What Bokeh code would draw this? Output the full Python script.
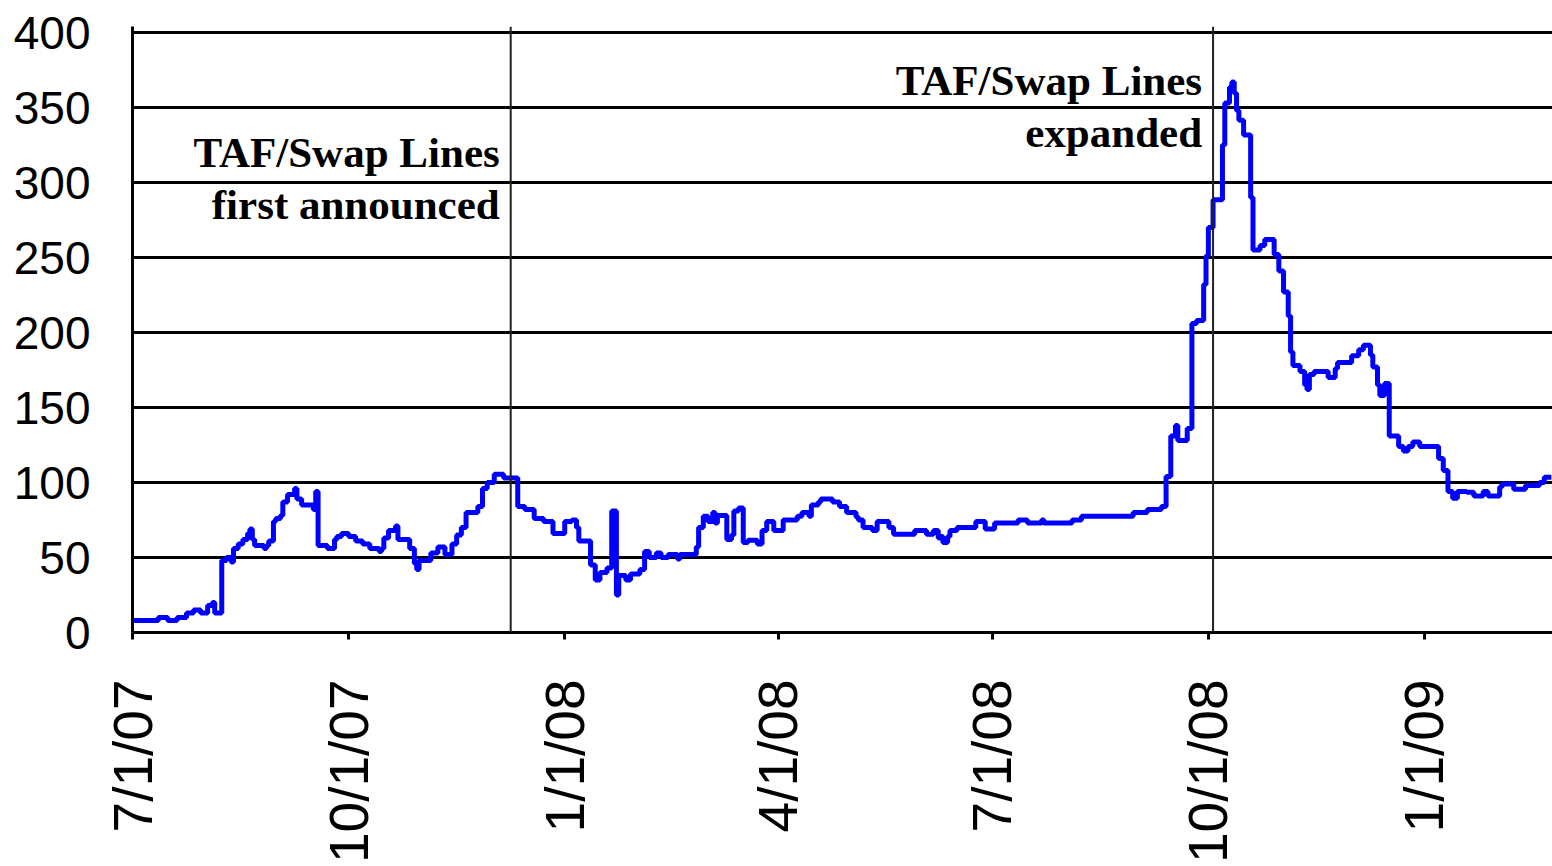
import math
import pandas as pd
from bokeh.plotting import figure
from bokeh.models import FixedTicker, Span, ColumnDataSource, Range1d
from bokeh.core.properties import value
from bokeh.embed import file_html
from bokeh.resources import INLINE

# ---------------- data ----------------
dates = [
    "2007-07-01", "2007-07-12", "2007-07-16", "2007-07-20", "2007-07-24", "2007-07-27", "2007-07-30",
    "2007-08-02", "2007-08-04", "2007-08-05", "2007-08-08", "2007-08-10", "2007-08-12", "2007-08-13",
    "2007-08-15", "2007-08-17", "2007-08-19", "2007-08-20", "2007-08-21", "2007-08-22", "2007-08-26",
    "2007-08-27", "2007-08-28", "2007-08-30", "2007-08-31", "2007-09-02", "2007-09-03", "2007-09-05",
    "2007-09-08", "2007-09-09", "2007-09-11", "2007-09-16", "2007-09-17", "2007-09-18", "2007-09-22",
    "2007-09-25", "2007-09-26", "2007-09-28", "2007-10-01", "2007-10-04", "2007-10-07", "2007-10-10",
    "2007-10-14", "2007-10-15", "2007-10-16", "2007-10-18", "2007-10-21", "2007-10-22", "2007-10-27",
    "2007-10-29", "2007-10-30", "2007-10-31", "2007-11-05", "2007-11-08", "2007-11-11", "2007-11-14",
    "2007-11-16", "2007-11-18", "2007-11-20", "2007-11-25", "2007-11-27", "2007-11-29", "2007-12-02",
    "2007-12-06", "2007-12-12", "2007-12-15", "2007-12-19", "2007-12-23", "2007-12-27", "2008-01-01",
    "2008-01-04", "2008-01-06", "2008-01-07", "2008-01-12", "2008-01-14", "2008-01-16", "2008-01-19",
    "2008-01-21", "2008-01-23", "2008-01-24", "2008-01-27", "2008-01-29", "2008-02-02", "2008-02-04",
    "2008-02-06", "2008-02-09", "2008-02-11", "2008-02-14", "2008-02-18", "2008-02-19", "2008-02-26",
    "2008-02-27", "2008-02-29", "2008-03-02", "2008-03-04", "2008-03-05", "2008-03-06", "2008-03-10",
    "2008-03-12", "2008-03-13", "2008-03-15", "2008-03-17", "2008-03-19", "2008-03-23", "2008-03-25",
    "2008-03-27", "2008-03-30", "2008-04-03", "2008-04-09", "2008-04-11", "2008-04-14", "2008-04-15",
    "2008-04-18", "2008-04-19", "2008-04-24", "2008-04-27", "2008-04-30", "2008-05-04", "2008-05-05",
    "2008-05-07", "2008-05-11", "2008-05-13", "2008-05-18", "2008-05-20", "2008-05-29", "2008-06-03",
    "2008-06-06", "2008-06-08", "2008-06-09", "2008-06-10", "2008-06-12", "2008-06-13", "2008-06-16",
    "2008-06-24", "2008-06-28", "2008-07-02", "2008-07-12", "2008-07-16", "2008-07-22", "2008-07-23",
    "2008-08-04", "2008-08-08", "2008-08-30", "2008-09-05", "2008-09-11", "2008-09-13", "2008-09-15",
    "2008-09-17", "2008-09-18", "2008-09-22", "2008-09-24", "2008-09-26", "2008-09-29", "2008-09-30",
    "2008-10-01", "2008-10-03", "2008-10-07", "2008-10-08", "2008-10-10", "2008-10-11", "2008-10-12",
    "2008-10-13", "2008-10-14", "2008-10-16", "2008-10-19", "2008-10-20", "2008-10-23", "2008-10-25",
    "2008-10-29", "2008-10-31", "2008-11-02", "2008-11-04", "2008-11-05", "2008-11-06", "2008-11-09",
    "2008-11-11", "2008-11-12", "2008-11-13", "2008-11-15", "2008-11-21", "2008-11-24", "2008-11-25",
    "2008-12-01", "2008-12-04", "2008-12-06", "2008-12-09", "2008-12-10", "2008-12-12", "2008-12-13",
    "2008-12-15", "2008-12-17", "2008-12-21", "2008-12-23", "2008-12-25", "2008-12-27", "2008-12-30",
    "2009-01-07", "2009-01-09", "2009-01-11", "2009-01-13", "2009-01-15", "2009-01-19", "2009-01-22",
    "2009-01-26", "2009-01-28", "2009-02-02", "2009-02-03", "2009-02-08", "2009-02-13", "2009-02-19",
    "2009-02-21", "2009-02-24",
]
spread = [
    8, 10, 8, 10, 13, 15, 13,
    18, 20, 13, 48, 50, 47, 56,
    59, 62, 66, 69, 62, 58, 56,
    58, 61, 74, 76, 78, 87, 92,
    96, 89, 85, 82, 94, 58, 56,
    62, 64, 66, 64, 61, 59, 56,
    54, 56, 63, 68, 71, 62, 56,
    46, 42, 48, 53, 57, 52, 59,
    65, 70, 80, 84, 96, 100, 105.5,
    103, 84, 82, 76, 74, 66, 74,
    75, 70, 61, 45, 35, 40, 43,
    81, 25, 38, 35, 39, 42, 54,
    50, 53, 50, 52, 49, 52, 57,
    70, 77.5, 74, 80, 73, 78, 62,
    65, 81, 83, 60, 61.5, 59, 68,
    74, 68, 75, 77.5, 80, 77.5, 85,
    87, 89, 87, 84, 80, 77, 75,
    70, 68, 74, 70, 65.5, 68, 65.5,
    68, 63, 64, 60, 64, 68, 70,
    74, 69, 73, 75, 73, 75, 73,
    75, 77.5, 80, 82, 84, 104, 131,
    138, 128, 136, 206, 208, 232, 251,
    270, 288.5, 325, 353, 363.5, 367, 359.5,
    348, 341.5, 331.7, 290, 255, 258, 262,
    252, 241, 227, 211, 187, 178, 174,
    165, 162, 172, 174, 170, 176, 180,
    184.5, 188.5, 191.5, 185, 177, 165, 158,
    166, 131, 124, 121, 124, 127, 124,
    116, 108, 94, 89.5, 94, 93.5, 91,
    94, 91, 97, 99, 95.5, 98, 100,
    103.5, 103.5,
]

tick_dates = ["2007-07-01", "2007-10-01", "2008-01-01", "2008-04-01",
              "2008-07-01", "2008-10-01", "2009-01-01"]
tick_labels = ["7/1/07", "10/1/07", "1/1/08", "4/1/08", "7/1/08", "10/1/08", "1/1/09"]
y_ticks = [0, 50, 100, 150, 200, 250, 300, 350, 400]

event_dates = ["2007-12-09", "2008-10-03"]
event_labels = [["TAF/Swap Lines", "first announced"], ["TAF/Swap Lines", "expanded"]]

# ---------------- figure ----------------
def ms(d):
    return pd.Timestamp(d).value / 1e6

x_start = pd.Timestamp("2007-07-01")
x_end = pd.Timestamp("2009-02-24 12:00")

p = figure(width=1552, height=866, x_axis_type="datetime",
           x_range=Range1d(x_start, x_end), y_range=Range1d(0, 404),
           output_backend="svg", toolbar_location=None,
           min_border_left=132, min_border_right=0, min_border_top=26,
           min_border_bottom=231)
p.outline_line_color = None
p.background_fill_color = "white"
p.border_fill_color = "white"

src = ColumnDataSource(dict(x=pd.to_datetime(dates), y=spread))
p.step(x="x", y="y", source=src, mode="after", line_color="#0000FF", line_width=5)

# grid
p.xgrid.grid_line_color = None
p.ygrid.ticker = FixedTicker(ticks=y_ticks)
p.ygrid.grid_line_color = "black"
p.ygrid.grid_line_width = 3

# y axis
p.yaxis.ticker = FixedTicker(ticks=y_ticks)
p.yaxis.axis_line_color = "black"
p.yaxis.axis_line_width = 3
p.yaxis.major_tick_out = 0
p.yaxis.major_tick_in = 0
p.yaxis.minor_tick_line_color = None
p.yaxis.major_label_text_font = "Liberation Sans"
p.yaxis.major_label_text_font_size = "46px"
p.yaxis.major_label_text_color = "black"
p.yaxis.major_label_standoff = 42

# x axis
tick_ms = [ms(d) for d in tick_dates]
p.xaxis.ticker = FixedTicker(ticks=tick_ms)
p.xaxis.major_label_overrides = {t: lab for t, lab in zip(tick_ms, tick_labels)}
p.xaxis.major_label_orientation = math.pi / 2
p.xaxis.axis_line_color = "black"
p.xaxis.axis_line_width = 3
p.xaxis.major_tick_out = 7
p.xaxis.major_tick_in = 0
p.xaxis.major_tick_line_width = 3
p.xaxis.minor_tick_line_color = None
p.xaxis.major_label_text_font = "Liberation Sans"
p.xaxis.major_label_text_font_size = "55px"
p.xaxis.major_label_text_color = "black"
p.xaxis.major_label_standoff = 40

# event lines
for d in event_dates:
    p.add_layout(Span(location=ms(d), dimension="height",
                      line_color="#222222", line_width=2))

# annotations (two lines, right-aligned left of each event line)
ann_x, ann_y, ann_t = [], [], []
line_tops = [320, 368]
for d, labs, top in zip(event_dates, event_labels, line_tops):
    for i, t in enumerate(labs):
        ann_x.append(pd.Timestamp(d))
        ann_y.append(top - 34.5 * i)
        ann_t.append(t)
ann = ColumnDataSource(dict(x=ann_x, y=ann_y, text=ann_t))
p.text(x="x", y="y", text="text", source=ann, text_align="right",
       text_baseline="alphabetic", x_offset=-11,
       text_font=value("Liberation Serif"), text_font_style="bold",
       text_font_size="43px", text_color="black")

open("out.html", "w").write(file_html(p, INLINE))
